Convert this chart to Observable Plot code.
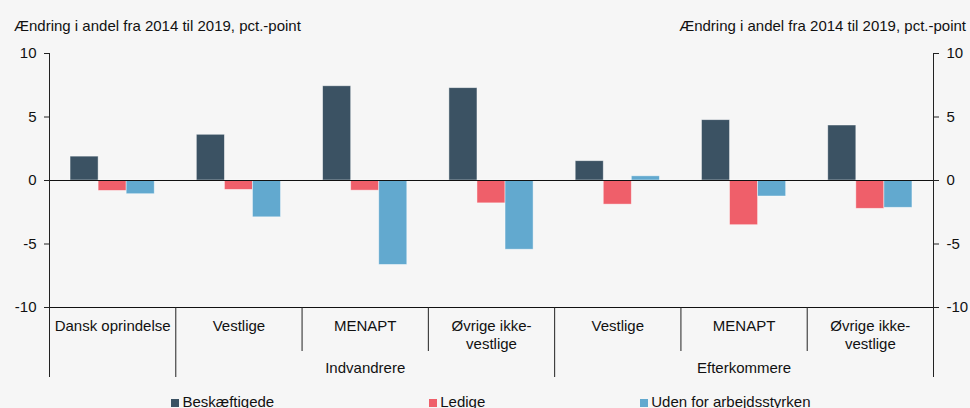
<!DOCTYPE html>
<html>
<head>
<meta charset="utf-8">
<script src="https://cdn.jsdelivr.net/npm/d3@7"></script>
<script src="https://cdn.jsdelivr.net/npm/@observablehq/plot@0.6"></script>
<style>
  html, body { margin: 0; padding: 0; background: #f6f6f6; }
  #wrap { position: relative; width: 970px; height: 408px; overflow: hidden; background: #f6f6f6;
          font-family: "Liberation Sans", Arial, sans-serif; color: #111; }
  .title { position: absolute; top: 17px; font-size: 15px; line-height: 17px; white-space: nowrap; }
  #tl { left: 14px; }
  #tr { right: 4px; }
  #chart { position: absolute; left: 0; top: 40px; }
  #legend { position: absolute; left: 49px; width: 884px; top: 392.5px; text-align: center;
            font-size: 15px; line-height: 17px; white-space: nowrap; }
  .item { display: inline-block; }
  .item + .item { margin-left: 155px; }
  .sw { display: inline-block; width: 8px; height: 8px; margin-right: 3px; vertical-align: baseline; }
</style>
</head>
<body>
<div id="wrap">
  <div class="title" id="tl"></div>
  <div class="title" id="tr"></div>
  <div id="chart"></div>
  <div id="legend"></div>
</div>
<script>
const yTitle = "Ændring i andel fra 2014 til 2019, pct.-point";
const categories = ["Dansk oprindelse", "Vestlige", "MENAPT", "Øvrige ikke-\nvestlige", "Vestlige", "MENAPT", "Øvrige ikke-\nvestlige"];
const categoryGroup = ["", "Indvandrere", "Indvandrere", "Indvandrere", "Efterkommere", "Efterkommere", "Efterkommere"];
const groups = ["Indvandrere", "Efterkommere"];
const series = ["Beskæftigede", "Ledige", "Uden for arbejdsstyrken"];
const colors = ["#3b5263", "#ef5f6a", "#62a9cf"];
const beskaeftigede = [1.88, 3.6, 7.42, 7.27, 1.52, 4.75, 4.33];
const ledige = [-0.82, -0.74, -0.8, -1.8, -1.9, -3.52, -2.23];
const udenFor = [-1.08, -2.9, -6.65, -5.45, 0.33, -1.26, -2.15];
const yTicks = [-10, -5, 0, 5, 10];
const yDomain = [-10, 10];

document.getElementById("tl").textContent = yTitle;
document.getElementById("tr").textContent = yTitle;

const seriesValues = [beskaeftigede, ledige, udenFor];
const rows = [];
categories.forEach((c, i) => {
  series.forEach((s, k) => {
    rows.push({i, k, category: c, series: s, value: seriesValues[k][i]});
  });
});

// layout within each category slot (fractions of a slot)
const outerPad = 1 / 6;
const barW = (1 - 2 * outerPad) / series.length;

const catIdx = categories.map((c, i) => i);
const boundaries = d3.range(categories.length + 1);
const longB = boundaries.filter(b => b === 0 || b === categories.length || categoryGroup[b] !== categoryGroup[b - 1]);
const shortB = boundaries.filter(b => !longB.includes(b));
const groupCenters = groups.map(g => {
  const idx = catIdx.filter(i => categoryGroup[i] === g);
  return {g, x: (idx[0] + idx[idx.length - 1] + 1) / 2};
});

const font = "Liberation Sans, Arial, sans-serif";
const fmt = d => String(d);
const plot = Plot.plot({
  width: 970,
  height: 348,
  marginTop: 13,
  marginBottom: 81,
  marginLeft: 49,
  marginRight: 37,
  style: {background: "transparent", fontFamily: font, fontSize: "15px", color: "#111"},
  x: {domain: [0, categories.length], axis: null},
  y: {domain: yDomain, axis: null},
  color: {domain: series, range: colors},
  marks: [
    Plot.rectY(rows, {
      x1: d => d.i + outerPad + d.k * barW,
      x2: d => d.i + outerPad + (d.k + 1) * barW,
      y1: 0,
      y2: "value",
      fill: "series",
      stroke: "#ffffff",
      strokeOpacity: 0.55,
      strokeWidth: 0.8
    }),
    Plot.ruleY([0], {stroke: "#111", strokeWidth: 1}),
    Plot.ruleY([yDomain[0]], {stroke: "#111", strokeWidth: 1}),
    Plot.ruleX([0, categories.length], {y1: yDomain[1], y2: yDomain[0], insetBottom: -70, stroke: "#222"}),
    Plot.ruleX(longB.filter(b => b !== 0 && b !== categories.length), {y1: yDomain[0], y2: yDomain[0], insetBottom: -70, stroke: "#222"}),
    Plot.ruleX(shortB, {y1: yDomain[0], y2: yDomain[0], insetBottom: -44, stroke: "#222"}),
    Plot.axisY({anchor: "left", ticks: yTicks, tickFormat: fmt, tickSize: 5, tickPadding: 8, label: null, fontSize: 15, stroke: "#222"}),
    Plot.axisY({anchor: "right", ticks: yTicks, tickFormat: fmt, tickSize: 5, tickPadding: 8, label: null, fontSize: 15, stroke: "#222"}),
    Plot.text(catIdx, {
      x: i => i + 0.5,
      y: () => yDomain[0],
      text: i => categories[i],
      dy: 11,
      lineAnchor: "top",
      lineHeight: 1.18,
      fontSize: 15,
      fill: "#111"
    }),
    Plot.text(groupCenters, {
      x: "x",
      y: () => yDomain[0],
      text: "g",
      dy: 55,
      lineAnchor: "top",
      fontSize: 15,
      fill: "#111"
    })
  ]
});
document.getElementById("chart").appendChild(plot);

const legend = document.getElementById("legend");
series.forEach((s, k) => {
  const item = document.createElement("span");
  item.className = "item";
  const sw = document.createElement("span");
  sw.className = "sw";
  sw.style.background = colors[k];
  item.appendChild(sw);
  item.appendChild(document.createTextNode(s));
  legend.appendChild(item);
});
</script>
</body>
</html>
